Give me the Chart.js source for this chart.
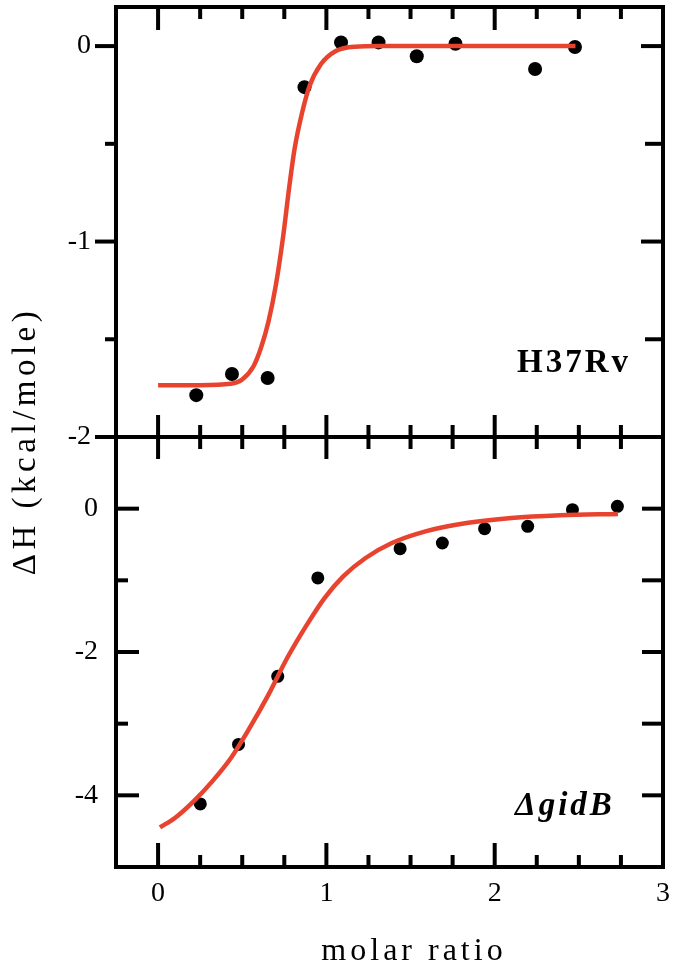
<!DOCTYPE html>
<html>
<head>
<title>ITC molar ratio</title>
<script src="https://cdn.jsdelivr.net/npm/chart.js@4.4.1/dist/chart.umd.min.js"></script>
<style>
	body{margin:0;background:white;}
	#plot{display:block;}
</style>
</head>
<body>
<canvas id="plot" width="680" height="972"></canvas>
<script>
// H37Rv (top panel)
topRatio=[0.227,0.439,0.651,0.870,1.087,1.31,1.537,1.767,2.24,2.477];
topHeat=[-1.786,-1.678,-1.698,-0.21,0.019,0.019,-0.052,0.012,-0.117,-0.005];
topFitRatio=[0.0,0.25,0.433,0.5,0.567,0.611,0.656,0.7,0.744,0.778,0.811,0.856,0.9,0.967,1.056,1.167,1.32,2.48];
topFitHeat=[-1.735,-1.735,-1.728,-1.706,-1.638,-1.545,-1.409,-1.222,-0.968,-0.73,-0.526,-0.34,-0.204,-0.093,-0.025,-0.003,0.0,0.0];

// gidB deletion (bottom panel)
botRatio=[0.251,0.478,0.711,0.949,1.438,1.689,1.94,2.196,2.462,2.729];
botHeat=[-4.12,-3.29,-2.34,-0.967,-0.558,-0.479,-0.279,-0.247,-0.014,0.033];
botFitRatio=[0.011,0.1,0.211,0.322,0.433,0.544,0.656,0.767,0.878,0.989,1.1,1.233,1.389,1.589,1.833,2.1,2.389,2.733];
botFitHeat=[-4.447,-4.316,-4.084,-3.805,-3.479,-3.06,-2.595,-2.084,-1.642,-1.247,-0.944,-0.688,-0.479,-0.316,-0.2,-0.13,-0.093,-0.074];

// ticks
ratioTicks=[0,1,2,3];
ratioMinor=[0.25,0.5,0.75,1.25,1.5,1.75,2.25,2.5,2.75];
topLabels=[0,-1,-2];
topMinor=[-0.5,-1.5];
botLabels=[0,-2,-4];
botMinor=[-1,-3];

serif="'Liberation Serif', 'Times New Roman', serif";
red="#e8432f";

function pts(xv,yv){
	return xv.map((v,i)=>({x:v,y:yv[i]}));
}

function drawLine(c,x1,y1,x2,y2){
	c.beginPath();
	c.moveTo(x1,y1);
	c.lineTo(x2,y2);
	c.stroke();
}

// frame, divider and y ticks
const framePlugin={
	id:'frame',
	beforeDraw(chart){
		const c=chart.ctx;
		c.save();
		c.fillStyle="white";
		c.fillRect(0,0,chart.width,chart.height);
		c.restore();
	},
	afterDraw(chart){
		const c=chart.ctx;
		const yt=chart.scales.yTop, yb=chart.scales.yBot;
		const area=chart.chartArea;
		const L=area.left, R=area.right, T=area.top, B=area.bottom;
		const M=yt.getPixelForValue(-2);
		c.save();
		c.strokeStyle="black";
		c.lineWidth=4;
		c.lineCap="butt";
		c.strokeRect(L,T,R-L,B-T);
		drawLine(c,L-21,M,R,M);
		// top panel y ticks: outside on left, inside on right
		topLabels.forEach(v=>{
			const p=yt.getPixelForValue(v);
			drawLine(c,L-21,p,L,p);
			drawLine(c,R,p,R-22,p);
		});
		topMinor.forEach(v=>{
			const p=yt.getPixelForValue(v);
			drawLine(c,L-11,p,L,p);
			drawLine(c,R,p,R-18,p);
		});
		// bottom panel y ticks: inside both sides
		botLabels.forEach(v=>{
			const p=yb.getPixelForValue(v);
			drawLine(c,L,p,L+23,p);
			drawLine(c,R,p,R-21,p);
		});
		botMinor.forEach(v=>{
			const p=yb.getPixelForValue(v);
			drawLine(c,L,p,L+12,p);
			drawLine(c,R,p,R-21,p);
		});
		c.restore();
	}
};

// x ticks: down from the top edge, across the divider, up from the bottom edge
const xTickPlugin={
	id:'xticks',
	afterDraw(chart){
		const c=chart.ctx;
		const sx=chart.scales['x'];
		const area=chart.chartArea;
		const T=area.top, B=area.bottom;
		const M=chart.scales.yTop.getPixelForValue(-2);
		c.save();
		c.setTransform(1,0,0,1,0,0);
		c.globalAlpha=1;
		c.globalCompositeOperation='source-over';
		c.strokeStyle="#000000";
		c.lineWidth=4;
		const marks=[];
		for(let i=0;i<ratioTicks.length;i++){marks.push([Number(ratioTicks[i]),23,22,24]);}
		for(let i=0;i<ratioMinor.length;i++){marks.push([Number(ratioMinor[i]),12,12,12]);}
		for(let i=0;i<marks.length;i++){
			const p=sx.getPixelForValue(marks[i][0]);
			c.beginPath();
			c.moveTo(p,T);c.lineTo(p,T+marks[i][1]);
			c.moveTo(p,M-marks[i][2]);c.lineTo(p,M+marks[i][2]);
			c.moveTo(p,B);c.lineTo(p,B-marks[i][3]);
			c.stroke();
		}
		c.restore();
	}
};

// titles and panel labels
const textPlugin={
	id:'texts',
	afterDraw(chart){
		const c=chart.ctx;
		c.save();
		c.fillStyle="black";
		c.textAlign="left";
		c.textBaseline="alphabetic";
		c.letterSpacing="3px";
		c.font="bold 33px "+serif;
		c.fillText("H37Rv",517,372);
		c.font="italic bold 33px "+serif;
		c.fillText("\u0394gidB",515,815);
		c.letterSpacing="4px";
		c.font="32px "+serif;
		c.textAlign="center";
		c.fillText("molar ratio",414,960);
		c.translate(35,441);
		c.rotate(-Math.PI/2);
		c.letterSpacing="4.5px";
		c.font="33px "+serif;
		c.fillText("\u0394H (kcal/mole)",0,0);
		c.restore();
	}
};

function yAxis(min,max,labels,pad){
	return {
		type:'linear',
		position:'left',
		stack:'dh',
		stackWeight:1,
		min:min,
		max:max,
		grid:{display:false,drawTicks:false},
		border:{display:false},
		ticks:{
			color:'black',
			padding:pad,
			font:{family:serif,size:28},
			callback:v=>String(v)
		},
		afterBuildTicks:s=>{s.ticks=labels.map(v=>({value:v}));},
		afterFit:s=>{s.width=116;s.paddingTop=0;s.paddingBottom=0;}
	};
}

const config={
	type:'scatter',
	data:{
		datasets:[
			{label:'H37Rv fit',data:pts(topFitRatio,topFitHeat),yAxisID:'yTop',showLine:true,borderColor:red,borderWidth:4.5,pointRadius:0,cubicInterpolationMode:'monotone',order:0},
			{label:'\u0394gidB fit',data:pts(botFitRatio,botFitHeat),yAxisID:'yBot',showLine:true,borderColor:red,borderWidth:4.5,pointRadius:0,cubicInterpolationMode:'monotone',order:0},
			{label:'H37Rv',data:pts(topRatio,topHeat),yAxisID:'yTop',backgroundColor:'black',borderWidth:0,pointRadius:7,order:1},
			{label:'\u0394gidB',data:pts(botRatio,botHeat),yAxisID:'yBot',backgroundColor:'black',borderWidth:0,pointRadius:6.5,order:1}
		]
	},
	options:{
		responsive:false,
		animation:false,
		devicePixelRatio:1,
		layout:{padding:{top:4,right:6,bottom:0,left:0}},
		scales:{
			x:{
				type:'linear',
				position:'bottom',
				min:-0.25,
				max:3,
				grid:{display:false,drawTicks:false},
				border:{display:false},
				ticks:{color:'black',padding:10,font:{family:serif,size:28}},
				afterBuildTicks:s=>{s.ticks=ratioTicks.map(v=>({value:v}));},
				afterFit:s=>{s.height=105;}
			},
			// stacked axes are laid out bottom-up, so the lower panel comes first
			yBot:yAxis(-5,1,botLabels,18),
			yTop:yAxis(-2,0.2,topLabels,25)
		},
		plugins:{
			legend:{display:false},
			tooltip:{enabled:false}
		}
	},
	plugins:[framePlugin,xTickPlugin,textPlugin]
};
plot=document.getElementById("plot");
const myChart=new Chart(plot,config);
</script>
</body>
</html>
